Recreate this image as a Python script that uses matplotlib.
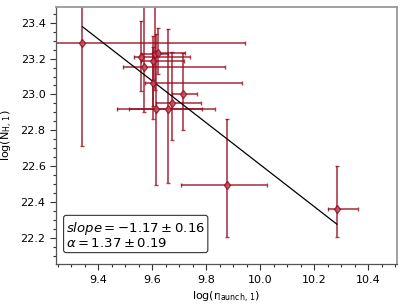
import numpy as np
import matplotlib
matplotlib.use('Agg')
import matplotlib.pyplot as plt
from matplotlib.ticker import MultipleLocator

# log(r_launch,1) and log(N_H,1) with asymmetric errors
x = [9.341, 9.556, 9.570, 9.601, 9.608, 9.620, 9.604, 9.715, 9.673, 9.614, 9.656, 9.878, 10.283]
y = [23.285, 23.209, 23.153, 23.185, 23.223, 23.233, 23.064, 23.002, 22.950, 22.917, 22.917, 22.494, 22.359]
x_lo = [0.70, 0.023, 0.078, 0.042, 0.05, 0.022, 0.031, 0.043, 0.059, 0.144, 0.144, 0.171, 0.031]
x_hi = [0.603, 0.183, 0.299, 0.115, 0.05, 0.10, 0.327, 0.05, 0.107, 0.168, 0.174, 0.146, 0.080]
y_lo = [0.571, 0.188, 0.249, 0.25, 0.20, 0.119, 0.20, 0.20, 0.205, 0.42, 0.413, 0.292, 0.156]
y_hi = [0.571, 0.203, 0.40, 0.14, 0.35, 0.136, 0.20, 0.229, 0.288, 0.42, 0.45, 0.368, 0.242]

slope = -1.17
intercept = 34.307
slope_err = 0.16
alpha_val = 1.37
alpha_err = 0.19

red = '#980a1c'

fig = plt.figure(figsize=(4.07, 3.05), dpi=100)
ax = fig.add_axes([0.1376, 0.134, 0.8374, 0.843])

ax.errorbar(x, y, xerr=[x_lo, x_hi], yerr=[y_lo, y_hi], fmt='d', color=red,
            ecolor=red, elinewidth=1.2, capsize=1.5, capthick=1.0, alpha=0.8,
            ms=4.5, mec=red, mfc='#c25566')

xf = np.array([min(x), max(x)])
ax.plot(xf, slope * xf + intercept, color='black', lw=0.9)

ax.text(0.03, 0.055,
        r'$slope = -%.2f \pm %.2f$' % (-slope, slope_err) + '\n' +
        r'$\alpha = %.2f \pm %.2f$' % (alpha_val, alpha_err),
        transform=ax.transAxes, fontsize=9.5, va='bottom', ha='left', linespacing=1.0,
        bbox=dict(boxstyle='round,pad=0.2', fc='white', ec='#333333', lw=0.8))

ax.set_xlim(9.243, 10.505)
ax.set_ylim(22.053, 23.488)
ax.xaxis.set_major_locator(MultipleLocator(0.2))
ax.xaxis.set_minor_locator(MultipleLocator(0.05))
ax.yaxis.set_major_locator(MultipleLocator(0.2))
ax.yaxis.set_minor_locator(MultipleLocator(0.05))
ax.tick_params(which='both', direction='out', labelsize=8, color='#333333', width=0.8)
ax.tick_params(which='major', length=4)
ax.tick_params(which='minor', length=2.5)

for side in ['top', 'right']:
    ax.spines[side].set_color('#999999')
    ax.spines[side].set_linewidth(1.3)
for side in ['left', 'bottom']:
    ax.spines[side].set_color('#555555')
    ax.spines[side].set_linewidth(0.9)

ax.set_xlabel(r'log(r$_{\rm launch,\,1}$)', fontsize=8)
ax.set_ylabel(r'log(N$_{\rm H,\,1}$)', fontsize=8)

plt.savefig('out.png', dpi=100)
